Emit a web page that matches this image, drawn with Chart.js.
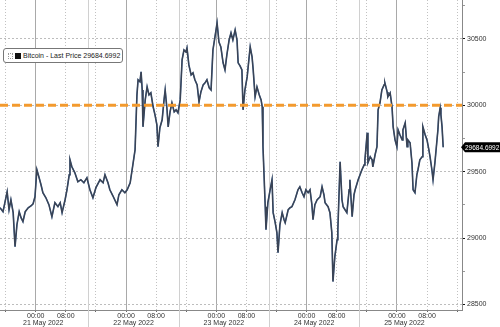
<!DOCTYPE html>
<html>
<head>
<meta charset="utf-8">
<script src="https://cdn.jsdelivr.net/npm/chart.js@4.4.0/dist/chart.umd.min.js"></script>
<style>
  body { margin: 0; background: #fff; }
  .chart_wrap { position: relative; width: 500px; height: 327px; }
  .legend_box {
    position: absolute; left: 3px; top: 48px; width: 118px; height: 13px;
    border: 1px solid #777; border-radius: 3px; background: #fff;
    font: 7px "Liberation Sans", Arial, sans-serif; color: #222;
    display: flex; align-items: center; white-space: nowrap;
  }
  .legend_box .dots { width: 3px; height: 4px; margin: 0 2px 0 4px; border: 1px dotted #999; }
  .legend_box .swatch { width: 6px; height: 6px; background: #111; margin-right: 2px; }
</style>
</head>
<body>
<div class="chart_wrap">
  <canvas id="btc_chart"></canvas>
  <div class="legend_box"><span class="dots"></span><span class="swatch"></span><span id="legend_text"></span></div>
</div>
<script>
// hours counted from 21 May 2022 00:00
const hours = [-9.5,-8.7,-8.2,-7.6,-7.1,-6.6,-6.0,-5.5,-5.0,-4.4,-3.9,-3.4,-2.8,-2.0,-1.2,-0.7,-0.2,0.3,0.9,1.4,1.9,2.7,3.5,4.3,5.1,5.9,6.5,7.0,7.8,8.3,8.9,9.1,9.6,10.4,11.2,12.0,12.8,13.6,14.4,15.2,16.0,17.1,17.9,18.4,19.2,19.7,20.5,21.6,22.1,22.9,23.7,24.3,25.1,25.9,26.4,26.9,27.2,27.7,28.0,28.3,28.5,29.1,29.6,30.1,30.6,31.2,31.7,32.2,32.5,33.0,33.6,34.1,34.4,34.9,35.2,35.7,36.2,36.8,37.3,37.8,38.4,38.9,39.4,39.9,40.2,40.7,41.3,41.8,42.3,42.9,43.4,43.9,44.5,45.0,45.5,46.1,46.6,47.1,47.6,48.2,48.7,49.2,49.8,50.3,50.8,51.4,51.9,52.4,53.0,53.5,53.8,54.3,54.8,55.1,55.6,56.2,56.7,57.0,57.5,57.8,58.3,58.8,59.4,59.9,60.2,60.4,61.0,61.2,61.7,62.3,62.8,63.1,63.6,64.1,64.4,64.9,65.5,66.0,66.3,67.1,67.6,68.1,68.9,69.7,70.2,70.8,71.3,71.8,72.4,72.9,73.4,73.7,74.2,74.8,75.6,76.1,76.6,76.9,77.7,78.2,78.7,79.0,79.5,80.1,80.3,80.9,81.4,81.7,82.2,82.7,83.3,83.5,84.1,84.6,84.9,85.7,86.2,86.7,87.3,87.5,88.1,88.3,88.9,89.4,89.6,90.2,90.7,91.0,91.5,92.0,92.6,92.8,93.4,93.6,94.2,94.7,95.0,95.5,96.0,96.3,96.8,97.4,97.6,98.2,98.7,98.9,99.5,100.0,100.3,100.8,101.3,101.6,102.1,102.7,102.9,103.5,104.0,104.5,104.8,105.3,105.6,106.1,106.9,107.1,107.5,107.7,108.0,108.3];
const prices = [29229,29199,29267,29349,29214,29289,29192,28936,29101,29199,29154,29124,29199,29229,29244,29259,29312,29515,29455,29402,29342,29304,29252,29161,29267,29237,29267,29192,29289,29364,29477,29590,29537,29492,29425,29440,29417,29455,29364,29304,29380,29440,29417,29477,29417,29364,29319,29252,29327,29364,29342,29364,29417,29568,29665,30079,30192,30177,30252,30116,29838,30041,30139,30079,30094,29989,29928,29853,29688,29831,29891,30041,30116,29966,29838,29951,30019,29951,29966,29944,30041,30342,30417,30402,30432,30304,30229,30244,30192,30154,30026,30101,30154,30169,30192,30132,30116,30417,30508,30620,30477,30440,30320,30267,30380,30492,30545,30492,30568,30492,30320,30297,30267,29966,30116,30214,30357,30440,30365,30267,30064,30139,30079,30041,29989,29688,29237,29064,29267,29364,29440,29192,29124,29041,28891,29101,29192,29139,29116,29214,29229,29237,29289,29364,29387,29342,29312,29364,29342,29364,29252,29139,29252,29289,29312,29387,29327,29267,29237,29192,29041,28673,28861,28988,29064,29575,29289,29237,29214,29192,29364,29440,29161,29327,29364,29440,29477,29515,29552,29590,29793,29568,29613,29590,29537,29628,29688,29966,30019,30116,30154,30169,30101,30064,30094,29989,29838,29740,29688,29816,29778,29740,29816,29868,29688,29740,29718,29568,29364,29342,29477,29515,29590,29613,29838,29778,29740,29665,29613,29515,29440,29568,29816,29913,29981,29928,29838,29684.6992];

const refLevel = 30000;
const xTickHours = [-8, 0, 8, 16, 24, 32, 40, 48, 56, 64, 72, 80, 88, 96, 104, 112];
const dayLabels = ["21 May 2022", "22 May 2022", "23 May 2022", "24 May 2022", "25 May 2022"];
const sessionBreaks = [14, 38, 62, 86];
const yTickValues = [28500, 28750, 29000, 29250, 29500, 29750, 30000, 30250, 30500, 30750];

const X_MIN = -9.5, X_MAX = 113.3, Y_MIN = 28459, Y_MAX = 30793;
const FONT = "Liberation Sans, Arial, sans-serif";

let lastPrice = prices[prices.length - 1];
document.getElementById("legend_text").textContent = "Bitcoin - Last Price " + lastPrice.toFixed(4);

let lineData = hours.map((h, i) => ({ x: h, y: prices[i] }));
const hourOfDay = (h) => ((h % 24) + 24) % 24;

//! overlays: session breaks, dates, last price tag
const extras = {
  id: "extras",
  beforeDatasetsDraw(chart) {
    const { ctx, scales: { x } } = chart;
    ctx.save();
    ctx.strokeStyle = "#d0d0d0";
    ctx.lineWidth = 1;
    sessionBreaks.forEach((h) => {
      let px = Math.round(x.getPixelForValue(h)) + 0.5;
      ctx.beginPath();
      ctx.moveTo(px, 0);
      ctx.lineTo(px, chart.height);
      ctx.stroke();
    });
    ctx.restore();
  },
  afterDraw(chart) {
    const { ctx, scales: { x, y } } = chart;
    ctx.save();
    ctx.fillStyle = "#333";
    ctx.font = "7px " + FONT;
    ctx.textAlign = "center";
    ctx.textBaseline = "middle";
    dayLabels.forEach((label, i) => {
      ctx.fillText(label, x.getPixelForValue(i * 24 + 2), 323);
    });

    let py = y.getPixelForValue(lastPrice);
    let left = chart.chartArea.right + 2;
    ctx.fillStyle = "#000";
    ctx.beginPath();
    ctx.moveTo(left - 3, py);
    ctx.lineTo(left + 1, py - 5);
    ctx.lineTo(chart.width, py - 5);
    ctx.lineTo(chart.width, py + 5);
    ctx.lineTo(left + 1, py + 5);
    ctx.closePath();
    ctx.fill();
    ctx.fillStyle = "#fff";
    ctx.textAlign = "left";
    ctx.font = "6.5px " + FONT;
    ctx.fillText(lastPrice.toFixed(4), left + 1, py + 0.5);
    ctx.restore();
  },
};

const ctx = document.getElementById("btc_chart");
new Chart(ctx, {
  type: "line",
  data: {
    datasets: [
      {
        label: "30000",
        data: [{ x: X_MIN, y: refLevel }, { x: X_MAX, y: refLevel }],
        borderColor: "#f39a2e",
        borderWidth: 3,
        borderDash: [8, 4],
        pointRadius: 0,
      },
      {
        label: "Bitcoin shade",
        data: lineData,
        borderColor: "#3a4456",
        borderWidth: 1.6,
        pointRadius: 0,
        tension: 0,
      },
      {
        label: "Bitcoin - Last Price",
        data: lineData,
        borderColor: "#4b8de0",
        borderWidth: 1.2,
        pointRadius: 0,
        tension: 0,
      },
    ],
  },
  options: {
    responsive: true,
    maintainAspectRatio: false,
    animation: false,
    layout: { padding: 0 },
    plugins: {
      legend: { display: false },
      tooltip: { enabled: false },
    },
    scales: {
      x: {
        type: "linear",
        min: X_MIN,
        max: X_MAX,
        afterBuildTicks: (scale) => {
          scale.ticks = xTickHours.map((v) => ({ value: v }));
        },
        afterFit: (scale) => {
          scale.height = 17;
          scale.paddingLeft = 0;
          scale.paddingRight = 0;
        },
        grid: {
          color: (c) => (c.tick && hourOfDay(c.tick.value) === 0 ? "#a9a9a9" : "#c2c2c2"),
          lineWidth: 1,
          tickLength: 2,
          tickColor: "#666",
        },
        border: {
          color: "#888",
          dash: (c) => (c.tick && hourOfDay(c.tick.value) !== 0 ? [1, 2] : []),
        },
        ticks: {
          autoSkip: false,
          maxRotation: 0,
          padding: 0,
          color: "#333",
          font: { size: 7, family: FONT },
          callback: (v) => {
            let hd = hourOfDay(v);
            if (hd === 0) return "00:00";
            if (hd === 8) return "08:00";
            return "";
          },
        },
      },
      y: {
        position: "right",
        min: Y_MIN,
        max: Y_MAX,
        afterBuildTicks: (scale) => {
          scale.ticks = yTickValues.map((v) => ({ value: v }));
        },
        afterFit: (scale) => {
          scale.width = 38;
          scale.paddingTop = 0;
          scale.paddingBottom = 0;
        },
        grid: {
          color: (c) => (c.tick && c.tick.value % 500 === 0 ? "#bdbdbd" : "rgba(0,0,0,0)"),
          tickLength: 3,
          tickColor: (c) => (c.tick && c.tick.value % 500 === 0 ? "#111" : "#999"),
        },
        border: {
          color: "#888",
          dash: [2, 2],
        },
        ticks: {
          padding: 2,
          color: "#333",
          font: { size: 7, family: FONT },
          callback: (v) => (v % 500 === 0 ? String(v) : ""),
        },
      },
    },
  },
  plugins: [extras],
});
</script>
</body>
</html>
